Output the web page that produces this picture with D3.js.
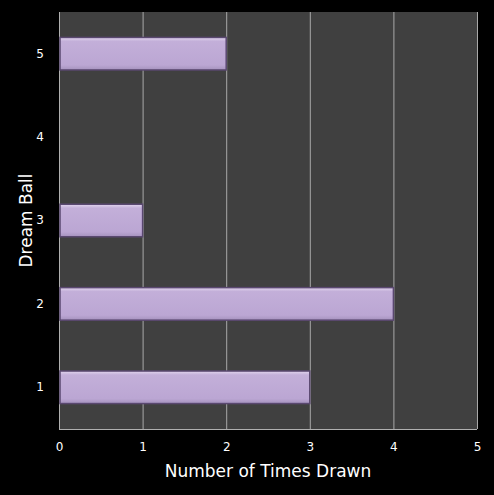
<!DOCTYPE html>
<html><head><meta charset="utf-8">
<script src="https://cdn.jsdelivr.net/npm/d3@7/dist/d3.min.js"></script>
<style>body{margin:0;background:#000;}svg{display:block;}</style>
</head><body>
<script>
const categories = ["1","2","3","4","5"];
const values = [3, 4, 1, 0, 2];
const xTicks = [0,1,2,3,4,5];

const W = 494, H = 495;
const m = {left:59, right:17, top:12, bottom:66};
const svg = d3.select("body").append("svg").attr("width",W).attr("height",H);
svg.append("rect").attr("width",W).attr("height",H).attr("fill","#000");

const x = d3.scaleLinear().domain([0,5]).range([m.left, W-m.right]);
const y = d3.scaleBand().domain(categories.slice().reverse()).range([m.top, H-m.bottom]).paddingInner(0.61).paddingOuter(0.305);

const defs = svg.append("defs");
const g = defs.append("linearGradient").attr("id","bg").attr("x1",0).attr("y1",0).attr("x2",0).attr("y2",1);
g.append("stop").attr("offset","0").attr("stop-color","#e2d6ee");
g.append("stop").attr("offset","0.12").attr("stop-color","#c3afd9");
g.append("stop").attr("offset","0.85").attr("stop-color","#bba6d3");
g.append("stop").attr("offset","1").attr("stop-color","#a592bd");

svg.append("rect").attr("x",x(0)).attr("y",m.top).attr("width",x(5)-x(0)).attr("height",H-m.bottom-m.top).attr("fill","#404040");

svg.append("g").selectAll("line").data(xTicks.slice(1)).join("line")
  .attr("x1",d=>x(d)+0.5).attr("x2",d=>x(d)+0.5).attr("y1",m.top).attr("y2",H-m.bottom)
  .attr("stroke","#a8a8a8").attr("stroke-width",1);

svg.append("line").attr("x1",x(0)+0.5).attr("x2",x(0)+0.5).attr("y1",m.top).attr("y2",H-m.bottom).attr("stroke","#b0b0b0");
svg.append("line").attr("x1",x(0)).attr("x2",x(5)).attr("y1",H-m.bottom+0.5).attr("y2",H-m.bottom+0.5).attr("stroke","#b0b0b0");

const data = categories.map((c,i)=>({c, v:values[i]})).filter(d=>d.v>0);
svg.append("g").selectAll("rect").data(data).join("rect")
  .attr("x",x(0)+1).attr("y",d=>y(d.c)).attr("width",d=>x(d.v)-x(0)-1).attr("height",y.bandwidth())
  .attr("fill","url(#bg)").attr("stroke","#5a4870").attr("stroke-width",1.5);

const font = "DejaVu Sans, Verdana, sans-serif";
const xa = svg.append("g").attr("transform",`translate(0,${H-m.bottom})`)
  .call(d3.axisBottom(x).tickValues(xTicks).tickFormat(d3.format("d")).tickSize(0).tickPadding(13));
xa.select(".domain").remove();
xa.selectAll("text").attr("fill","#fff").style("font-family",font).style("font-size","12px");

const ya = svg.append("g").attr("transform",`translate(${m.left},0)`)
  .call(d3.axisLeft(y).tickSize(0).tickPadding(15));
ya.select(".domain").remove();
ya.selectAll("text").attr("fill","#fff").style("font-family",font).style("font-size","12px");

svg.append("text").attr("x",(x(0)+x(5))/2).attr("y",477).attr("text-anchor","middle")
  .attr("fill","#fff").style("font-family",font).style("font-size","17px").text("Number of Times Drawn");
svg.append("text").attr("transform",`translate(32,${(m.top+H-m.bottom)/2}) rotate(-90)`).attr("text-anchor","middle")
  .attr("fill","#fff").style("font-family",font).style("font-size","17px").text("Dream Ball");
</script>
</body></html>
